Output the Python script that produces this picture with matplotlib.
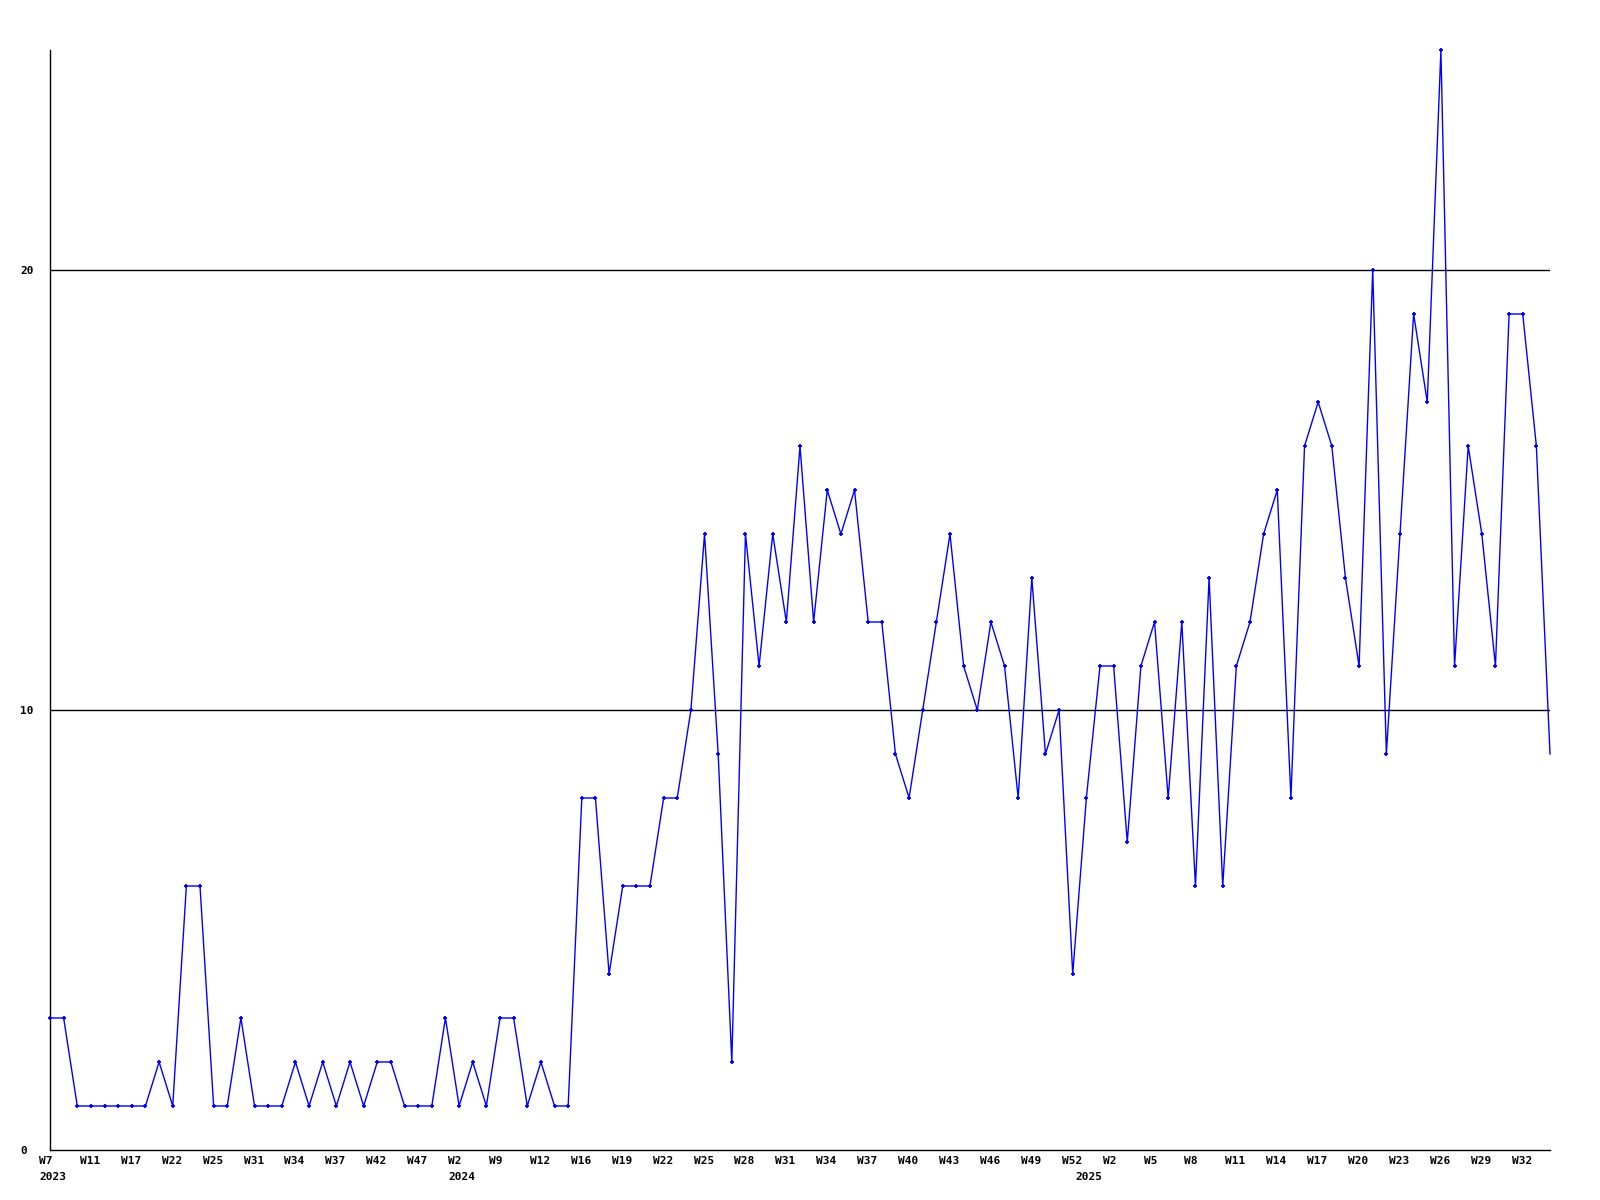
import numpy as np
import matplotlib
matplotlib.use("Agg")
from matplotlib import pyplot as plt
from matplotlib import transforms

# weekly counts, 2023 W7 .. 2025 W34
counts = [3, 3, 1, 1, 1, 1, 1, 1, 2, 1,
          6, 6, 1, 1, 3, 1, 1, 1, 2, 1,
          2, 1, 2, 1, 2, 2, 1, 1, 1, 3,
          1, 2, 1, 3, 3, 1, 2, 1, 1, 8,
          8, 4, 6, 6, 6, 8, 8, 10, 14, 9,
          2, 14, 11, 14, 12, 16, 12, 15, 14, 15,
          12, 12, 9, 8, 10, 12, 14, 11, 10, 12,
          11, 8, 13, 9, 10, 4, 8, 11, 11, 7,
          11, 12, 8, 12, 6, 13, 6, 11, 12, 14,
          15, 8, 16, 17, 16, 13, 11, 20, 9, 14,
          19, 17, 25, 11, 16, 14, 11, 19, 19, 16,
          9]

week_labels = ["W7", "W11", "W17", "W22", "W25", "W31", "W34", "W37", "W42", "W47",
               "W2", "W9", "W12", "W16", "W19", "W22", "W25", "W28", "W31", "W34",
               "W37", "W40", "W43", "W46", "W49", "W52", "W2", "W5", "W8", "W11",
               "W14", "W17", "W20", "W23", "W26", "W29", "W32"]
week_label_pos = list(range(0, 109, 3))

years = ["2023", "2024", "2025"]
year_pos = [0, 30, 76]

font = {"family": "DejaVu Sans Mono", "weight": "bold", "size": 8}

fig = plt.figure(figsize=(16, 12), dpi=100)
ax = fig.add_axes([50 / 1600, 50 / 1200, 1500 / 1600, 1100 / 1200])

x = np.arange(len(counts))
ax.plot(x, counts, color="#0000ff", linewidth=1.0, marker="+", markersize=3.5,
        markeredgewidth=1.3, markevery=list(range(len(counts) - 1)),
        clip_on=False, zorder=3)

for v in [10, 20]:
    ax.axhline(v, color="black", linewidth=1.0, zorder=1)

ax.set_xlim(0, len(counts) - 1)
ax.set_ylim(0, 25)

for side in ["top", "right"]:
    ax.spines[side].set_visible(False)
for side in ["left", "bottom"]:
    ax.spines[side].set_linewidth(1.0)

ax.set_xticks(week_label_pos)
ax.set_xticklabels(week_labels, fontdict=font, ha="left")
ax.tick_params(axis="x", length=0, pad=4)
shift = transforms.ScaledTranslation(-11 / 100, 0, fig.dpi_scale_trans)
for lbl in ax.get_xticklabels():
    lbl.set_transform(lbl.get_transform() + shift)

ax.set_yticks([0, 10, 20])
ax.set_yticklabels(["0", "10", "20"], fontdict=font, ha="left")
ax.tick_params(axis="y", length=0, pad=21.5)

for yr, p in zip(years, year_pos):
    ax.annotate(yr, xy=(p, 0), xycoords=("data", "axes fraction"),
                xytext=(-11, -27), textcoords="offset pixels",
                ha="left", va="center", **font)

plt.savefig("out.png", dpi=100)
